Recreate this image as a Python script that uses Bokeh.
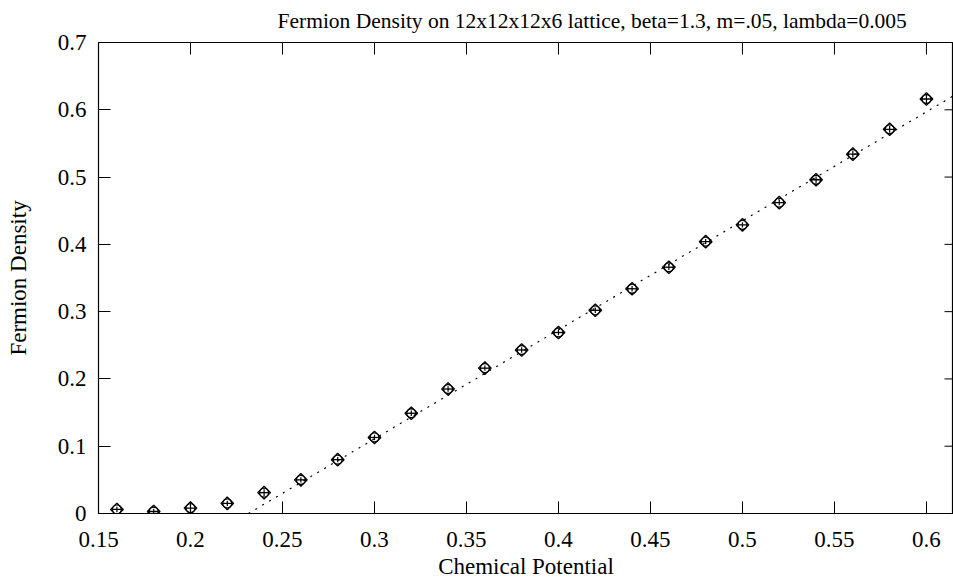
import math
from bokeh.plotting import figure
from bokeh.models import Range1d, FixedTicker, Whisker, ColumnDataSource
from bokeh.embed import file_html
from bokeh.resources import INLINE

# Chemical potential values and measured fermion density
mu = [0.16, 0.18, 0.20, 0.22, 0.24, 0.26, 0.28, 0.30, 0.32, 0.34, 0.36, 0.38,
      0.40, 0.42, 0.44, 0.46, 0.48, 0.50, 0.52, 0.54, 0.56, 0.58, 0.60]
density = [0.006, 0.003, 0.008, 0.015, 0.031, 0.050, 0.080, 0.113, 0.149, 0.185,
           0.216, 0.243, 0.269, 0.302, 0.334, 0.366, 0.404, 0.429, 0.462, 0.496,
           0.534, 0.571, 0.616]
density_err = [0.004, 0.004, 0.005, 0.004, 0.005, 0.004, 0.004, 0.004, 0.004, 0.004,
               0.004, 0.004, 0.004, 0.004, 0.004, 0.004, 0.004, 0.004, 0.004, 0.005,
               0.005, 0.005, 0.006]

# Linear fit: density = slope * (mu - mu0)
fit_mu0 = 0.2315
fit_slope = 1.62
fit_mu_end = 0.615

x_ticks = [0.15, 0.2, 0.25, 0.3, 0.35, 0.4, 0.45, 0.5, 0.55, 0.6]
x_tick_labels = ["0.15", "0.2", "0.25", "0.3", "0.35", "0.4", "0.45", "0.5", "0.55", "0.6"]
y_ticks = [0, 0.1, 0.2, 0.3, 0.4, 0.5, 0.6, 0.7]
y_tick_labels = ["0", "0.1", "0.2", "0.3", "0.4", "0.5", "0.6", "0.7"]

FONT = "Liberation Serif"
X_MIN, X_MAX = 0.15, 0.6147
Y_MIN, Y_MAX = 0.0, 0.7

p = figure(width=953, height=581, output_backend="svg", toolbar_location=None,
           x_range=Range1d(X_MIN, X_MAX), y_range=Range1d(Y_MIN, Y_MAX),
           min_border_left=98, min_border_right=0, min_border_top=42,
           min_border_bottom=66, x_axis_label="Chemical Potential",
           y_axis_label="Fermion Density",
           title="Fermion Density on 12x12x12x6 lattice, beta=1.3, m=.05, lambda=0.005")

p.title.text_font = FONT
p.title.text_font_size = "21.5px"
p.title.text_font_style = "normal"
p.title.text_color = "black"
p.title.align = "left"
p.title.vertical_align = "top"
p.title.offset = 179
p.title.standoff = 16

p.grid.visible = False
p.outline_line_color = "black"
p.outline_line_width = 1.2
p.background_fill_color = "white"
p.border_fill_color = "white"

for ax in p.xaxis:
    ax.ticker = FixedTicker(ticks=x_ticks)
    ax.major_label_overrides = dict(zip(x_ticks, x_tick_labels))
    ax.major_label_standoff = 18
    ax.axis_label_standoff = 4
for ax in p.yaxis:
    ax.ticker = FixedTicker(ticks=y_ticks)
    ax.major_label_overrides = dict(zip(y_ticks, y_tick_labels))
    ax.major_label_standoff = 12
    ax.axis_label_standoff = 24

for ax in list(p.xaxis) + list(p.yaxis):
    ax.major_tick_in = 12
    ax.major_tick_out = 0
    ax.major_tick_line_color = "black"
    ax.minor_tick_line_color = None
    ax.major_label_text_font = FONT
    ax.major_label_text_font_size = "23px"
    ax.major_label_text_color = "black"
    ax.axis_label_text_font = FONT
    ax.axis_label_text_font_size = "23px"
    ax.axis_label_text_font_style = "normal"
    ax.axis_label_text_color = "black"
    ax.axis_line_color = "black"

# Mirrored inward ticks along the top and right edges of the frame
p.ray(x=x_ticks, y=[Y_MAX] * len(x_ticks), length=12, length_units="screen",
      angle=-math.pi / 2, line_color="black", line_width=1)
p.ray(x=[X_MAX] * len(y_ticks), y=y_ticks, length=9, length_units="screen",
      angle=math.pi, line_color="black", line_width=1)

# Fit line
fit_x = [fit_mu0, fit_mu_end]
fit_y = [fit_slope * (m - fit_mu0) for m in fit_x]
p.line(fit_x, fit_y, line_color="black", line_width=1.2, line_dash="2 6")

src = ColumnDataSource(dict(
    x=mu, y=density,
    lo=[d - e for d, e in zip(density, density_err)],
    hi=[d + e for d, e in zip(density, density_err)],
))

p.add_layout(Whisker(source=src, base="x", lower="lo", upper="hi",
                     line_color="black", line_width=1.2,
                     upper_head=None, lower_head=None))
p.scatter("x", "y", source=src, marker="square", angle=math.pi / 4, size=9,
          fill_color=None, line_color="black", line_width=1.3)
p.scatter("x", "y", source=src, marker="circle", size=9, fill_color=None,
          line_color="black", line_width=1.3)
p.scatter("x", "y", source=src, marker="dash", size=11, line_color="black",
          line_width=1.3)

open("out.html", "w").write(file_html(p, INLINE))
